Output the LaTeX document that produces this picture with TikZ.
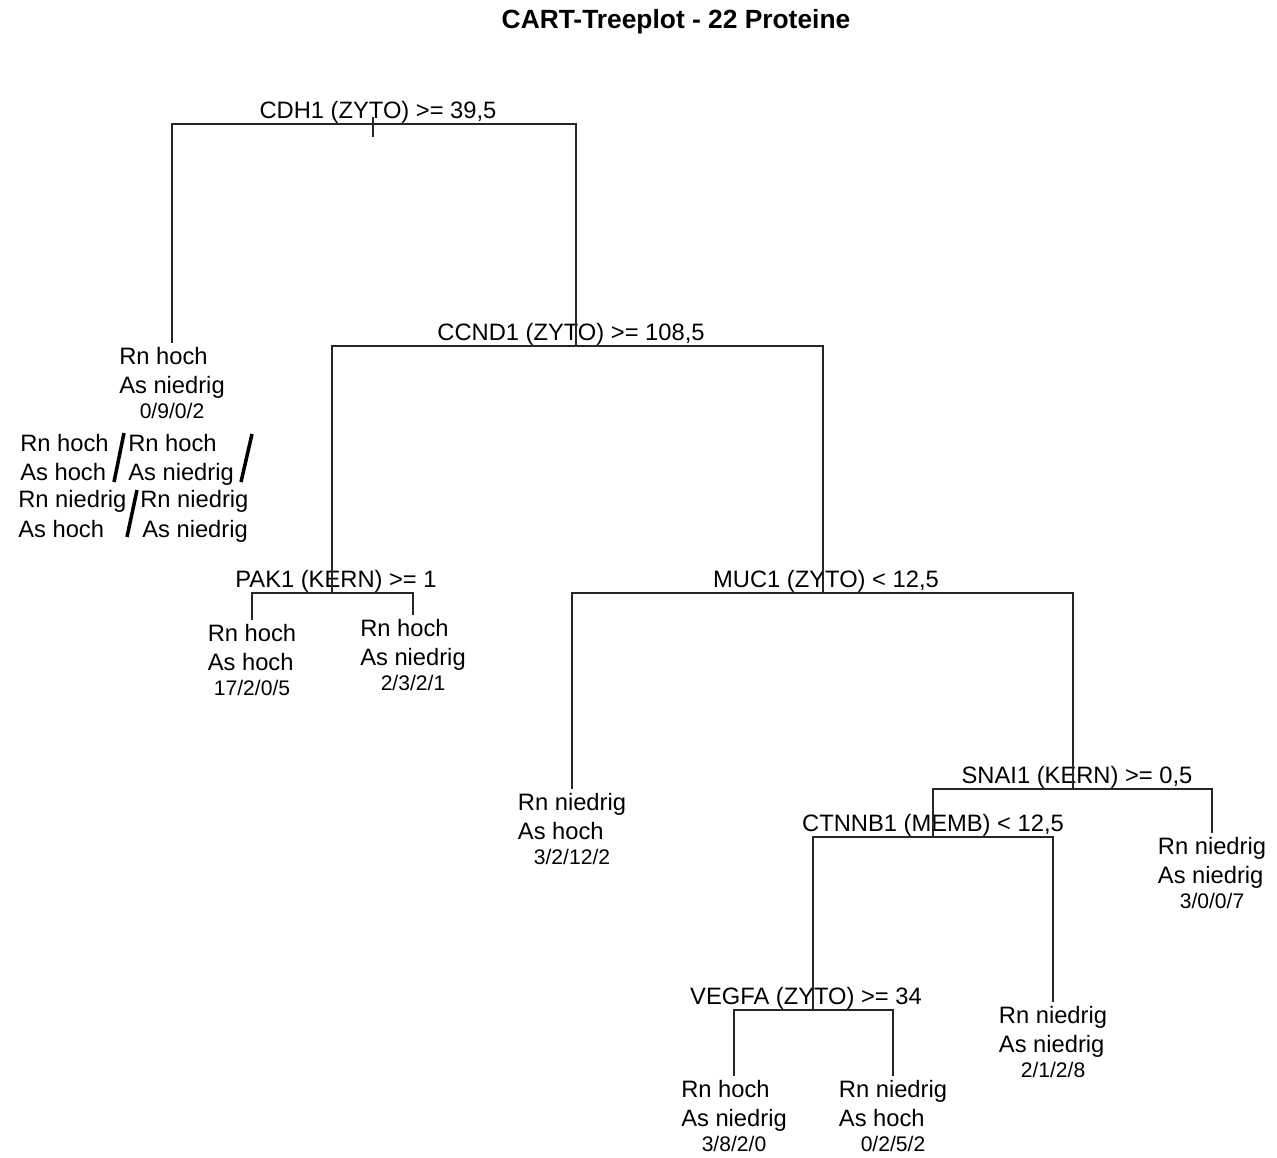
\documentclass[tikz,border=0pt]{standalone}
\usepackage{fontspec}
\setmainfont{Liberation Sans}
\usetikzlibrary{positioning}
\tikzset{
  split/.style={font=\fontsize{13.5}{17}\selectfont, inner sep=0pt, anchor=base},
  leaf/.style={align=left, font=\fontsize{13.5}{17}\selectfont,
               inner sep=2pt, text depth=3pt, anchor=north},
  cnt/.style={font=\fontsize{12}{14}\selectfont, inner sep=0pt,
              text height=8.6pt, text depth=0pt},
  legend/.style={font=\fontsize{13.5}{17}\selectfont, inner sep=0pt, anchor=base west},
  title/.style={font=\bfseries\fontsize{15}{18}\selectfont, inner sep=0pt},
  branch/.style={line width=1.1pt, draw=black!85},
  slash/.style={line width=2pt, draw=black}
}

\begin{document}
\begin{tikzpicture}[x=0.02cm, y=-0.02cm]
  \useasboundingbox (0,0) rectangle (1277,1157);

  % Title
  \node[title] (ttl) at (676,22) {CART-Treeplot - 22 Proteine};

  % Split labels and their junctions
  \node[split] (cdh1)   at (378,118)  {CDH1 (ZYTO) >= 39,5};
  \node[split] (ccnd1)  at (571,340)  {CCND1 (ZYTO) >= 108,5};
  \node[split] (pak1)   at (336,587)  {PAK1 (KERN) >= 1};
  \node[split] (muc1)   at (826,587)  {MUC1 (ZYTO) < 12,5};
  \node[split] (snai1)  at (1077,783) {SNAI1 (KERN) >= 0,5};
  \node[split] (ctnnb1) at (933,831)  {CTNNB1 (MEMB) < 12,5};
  \node[split] (vegfa)  at (806,1004) {VEGFA (ZYTO) >= 34};

  \coordinate (cdh1j)   at (373,124);
  \coordinate (ccnd1j)  at (576,346);
  \coordinate (pak1j)   at (332,593);
  \coordinate (muc1j)   at (823,593);
  \coordinate (snai1j)  at (1073,789);
  \coordinate (ctnnb1j) at (933,837);
  \coordinate (vegfaj)  at (813,1010);
  \coordinate (roottop) at (373,117);
  \coordinate (rootbot) at (373,137);

  % Leaves
  \node[leaf] (lfA) at (172,343)  {Rn hoch\\As niedrig};
  \node[cnt, below=0pt of lfA] (nA) {0/9/0/2};
  \node[leaf] (lfB) at (252,620)  {Rn hoch\\As hoch};
  \node[cnt, below=0pt of lfB] (nB) {17/2/0/5};
  \node[leaf] (lfC) at (413,615)  {Rn hoch\\As niedrig};
  \node[cnt, below=0pt of lfC] (nC) {2/3/2/1};
  \node[leaf] (lfD) at (572,789)  {Rn niedrig\\As hoch};
  \node[cnt, below=0pt of lfD] (nD) {3/2/12/2};
  \node[leaf] (lfE) at (1053,1002) {Rn niedrig\\As niedrig};
  \node[cnt, below=0pt of lfE] (nE) {2/1/2/8};
  \node[leaf] (lfF) at (1212,833) {Rn niedrig\\As niedrig};
  \node[cnt, below=0pt of lfF] (nF) {3/0/0/7};
  \node[leaf] (lfG) at (734,1076) {Rn hoch\\As niedrig};
  \node[cnt, below=0pt of lfG] (nG) {3/8/2/0};
  \node[leaf] (lfH) at (893,1076) {Rn niedrig\\As hoch};
  \node[cnt, below=0pt of lfH] (nH) {0/2/5/2};

  % Branches
  \draw[branch] (roottop) -- (rootbot);
  \draw[branch] (cdh1j) -| (lfA.north);
  \draw[branch] (cdh1j) -| (ccnd1j);
  \draw[branch] (ccnd1j) -| (pak1j);
  \draw[branch] (ccnd1j) -| (muc1j);
  \draw[branch] (pak1j) -| (lfB.north);
  \draw[branch] (pak1j) -| (lfC.north);
  \draw[branch] (muc1j) -| (lfD.north);
  \draw[branch] (muc1j) -| (snai1j);
  \draw[branch] (snai1j) -| (ctnnb1j);
  \draw[branch] (snai1j) -| (lfF.north);
  \draw[branch] (ctnnb1j) -| (vegfaj);
  \draw[branch] (ctnnb1j) -| (lfE.north);
  \draw[branch] (vegfaj) -| (lfG.north);
  \draw[branch] (vegfaj) -| (lfH.north);

  % Legend (left side)
  \node[legend] (lgA1) at (20,451)  {Rn hoch};
  \node[legend] (lgA2) at (128,451) {Rn hoch};
  \node[legend] (lgB1) at (20,480)  {As hoch};
  \node[legend] (lgB2) at (128,480) {As niedrig};
  \node[legend] (lgC1) at (18,507)  {Rn niedrig};
  \node[legend] (lgC2) at (140,507) {Rn niedrig};
  \node[legend] (lgD1) at (18,537)  {As hoch};
  \node[legend] (lgD2) at (142,537) {As niedrig};

  \draw[slash] (124,433) -- (114,482);
  \draw[slash] (137,490) -- (127,537);
  \draw[slash] (252,434) -- (241,482);
\end{tikzpicture}
\end{document}
